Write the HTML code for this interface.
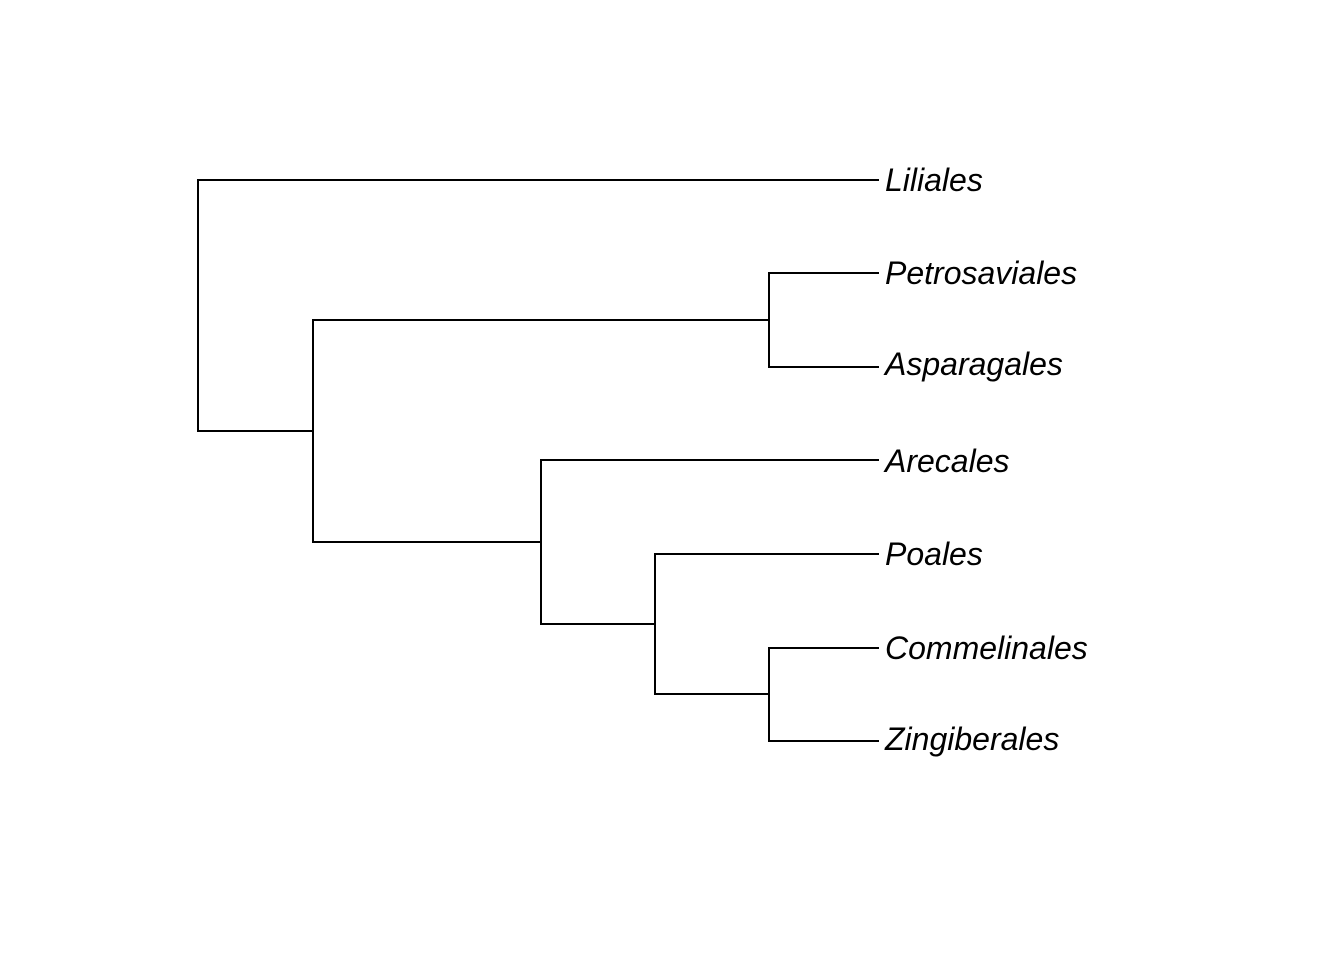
<!DOCTYPE html>
<html><head><style>html,body{margin:0;padding:0;background:#fff}</style></head>
<body>
<svg width="1344" height="960" xmlns="http://www.w3.org/2000/svg">
<g stroke="#000" stroke-width="2" fill="none" stroke-linecap="square">
<path d="M878 180H198V431H313"/>
<path d="M313 320V542H541"/>
<path d="M313 320H769"/>
<path d="M878 273H769V367H878"/>
<path d="M541 460V624H655"/>
<path d="M541 460H878"/>
<path d="M878 554H655V694H769"/>
<path d="M878 648H769V741H878"/>
</g>
<g font-family="Liberation Sans, sans-serif" font-style="italic" font-size="32" fill="#000">
<text x="885" y="191">Liliales</text>
<text x="885" y="284">Petrosaviales</text>
<text x="885" y="375">Asparagales</text>
<text x="885" y="472">Arecales</text>
<text x="885" y="565">Poales</text>
<text x="885" y="659">Commelinales</text>
<text x="885" y="750">Zingiberales</text>
</g>
</svg>
</body></html>
